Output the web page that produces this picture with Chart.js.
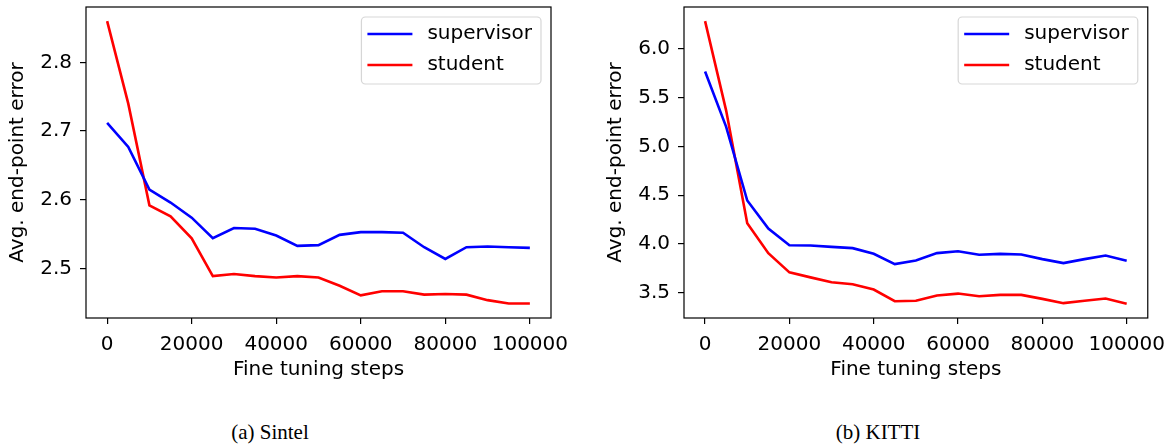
<!DOCTYPE html>
<html>
<head>
<meta charset="utf-8">
<script src="https://cdn.jsdelivr.net/npm/chart.js@4.4.0/dist/chart.umd.min.js"></script>
<style>
  body { margin: 0; background: #fff; }
  #wrap { position: relative; width: 1175px; height: 445px; }
  canvas { position: absolute; top: 0; }
  .cap { position: absolute; top: 420px; font-family: "Liberation Serif", serif; font-size: 21px; transform: translateX(-50%); white-space: nowrap; color: #000; }
</style>
</head>
<body>
<div id="wrap">
  <canvas id="sintel" width="580" height="400" style="left:0"></canvas>
  <canvas id="kitti" width="577" height="400" style="left:598px"></canvas>
  <div class="cap" style="left:270px">(a) Sintel</div>
  <div class="cap" style="left:878px">(b) KITTI</div>
</div>
<script>
const steps = [0, 5000, 10000, 15000, 20000, 25000, 30000, 35000, 40000, 45000, 50000,
  55000, 60000, 65000, 70000, 75000, 80000, 85000, 90000, 95000, 100000];
const xTicks = [0, 20000, 40000, 60000, 80000, 100000];

const sintelSupervisor = [2.712, 2.677, 2.615, 2.596, 2.574, 2.544, 2.559, 2.558, 2.548, 2.533, 2.534,
  2.549, 2.553, 2.553, 2.552, 2.531, 2.514, 2.531, 2.532, 2.531, 2.530];
const sintelStudent = [2.860, 2.740, 2.592, 2.576, 2.544, 2.489, 2.492, 2.489, 2.487, 2.489, 2.487,
  2.475, 2.461, 2.467, 2.467, 2.462, 2.463, 2.462, 2.454, 2.449, 2.449];
const sintelTicks = [2.5, 2.6, 2.7, 2.8];

const kittiSupervisor = [5.766, 5.20, 4.446, 4.158, 3.988, 3.985, 3.971, 3.958, 3.900, 3.795, 3.832,
  3.907, 3.927, 3.890, 3.900, 3.893, 3.846, 3.805, 3.846, 3.883, 3.829];
const kittiStudent = [6.282, 5.366, 4.212, 3.907, 3.710, 3.659, 3.609, 3.588, 3.534, 3.415, 3.419,
  3.473, 3.493, 3.466, 3.480, 3.480, 3.439, 3.395, 3.419, 3.442, 3.388];
const kittiTicks = [3.5, 4.0, 4.5, 5.0, 5.5, 6.0];

const FONT = "'DejaVu Sans', sans-serif";

// axes frame + matplotlib-style legend in the upper right
const boxAndLegend = {
  id: "boxAndLegend",
  afterDatasetsDraw(chart) {
    const { ctx, chartArea: a } = chart;
    ctx.save();
    ctx.strokeStyle = "#000";
    ctx.lineWidth = 1.2;
    ctx.strokeRect(a.left, a.top, a.right - a.left, a.bottom - a.top);

    ctx.font = "20px " + FONT;
    const sets = chart.data.datasets;
    const textW = Math.max(...sets.map(d => ctx.measureText(d.label).width));
    const w = 6 + 45 + 15 + textW + 9, h = 67;
    const x = a.right - 10 - w, y = a.top + 10;
    ctx.beginPath();
    ctx.roundRect(x, y, w, h, 4);
    ctx.fillStyle = "rgba(255,255,255,0.8)";
    ctx.fill();
    ctx.strokeStyle = "rgba(204,204,204,0.8)";
    ctx.lineWidth = 1.2;
    ctx.stroke();
    sets.forEach((d, i) => {
      const cy = y + 17 + i * 31;
      ctx.beginPath();
      ctx.moveTo(x + 6, cy);
      ctx.lineTo(x + 51, cy);
      ctx.strokeStyle = d.borderColor;
      ctx.lineWidth = 2.6;
      ctx.stroke();
      ctx.fillStyle = "#000";
      ctx.textBaseline = "middle";
      ctx.fillText(d.label, x + 66, cy);
    });
    ctx.restore();
  }
};

function makeChart(id, sup, stu, yMin, yMax, yTicks, padRight) {
  return new Chart(document.getElementById(id), {
    type: "line",
    data: {
      datasets: [
        {
          label: "supervisor",
          data: steps.map((s, i) => ({ x: s, y: sup[i] })),
          borderColor: "#0000ff",
          borderWidth: 2.6,
          pointRadius: 0,
          tension: 0
        },
        {
          label: "student",
          data: steps.map((s, i) => ({ x: s, y: stu[i] })),
          borderColor: "#ff0000",
          borderWidth: 2.6,
          pointRadius: 0,
          tension: 0
        }
      ]
    },
    options: {
      responsive: false,
      animation: false,
      layout: { padding: { top: 7, right: padRight, left: 0, bottom: 0 } },
      plugins: { legend: { display: false }, tooltip: { enabled: false } },
      scales: {
        x: {
          type: "linear",
          min: -5000,
          max: 105000,
          afterBuildTicks: s => { s.ticks = xTicks.map(v => ({ value: v })); },
          afterFit: s => { s.height = 82; },
          grid: { drawOnChartArea: false, drawTicks: true, tickLength: 6, color: "#000", lineWidth: 1.2 },
          border: { display: false },
          ticks: {
            color: "#000",
            font: { family: FONT, size: 20 },
            padding: 9,
            maxRotation: 0,
            autoSkip: false,
            callback: v => String(v)
          },
          title: {
            display: true,
            text: "Fine tuning steps",
            color: "#000",
            font: { family: FONT, size: 20 },
            padding: { top: 0, bottom: 18 }
          }
        },
        y: {
          min: yMin,
          max: yMax,
          afterBuildTicks: s => { s.ticks = yTicks.map(v => ({ value: v })); },
          afterFit: s => { s.width = 86; s.paddingTop = 0; s.paddingBottom = 0; },
          grid: { drawOnChartArea: false, drawTicks: true, tickLength: 6, color: "#000", lineWidth: 1.2 },
          border: { display: false },
          ticks: {
            color: "#000",
            font: { family: FONT, size: 20 },
            padding: 8,
            callback: v => v.toFixed(1)
          },
          title: {
            display: true,
            text: "Avg. end-point error",
            color: "#000",
            font: { family: FONT, size: 20 },
            padding: { top: 6, bottom: 0 }
          }
        }
      }
    },
    plugins: [boxAndLegend]
  });
}

makeChart("sintel", sintelSupervisor, sintelStudent, 2.428, 2.8806, sintelTicks, 29);
makeChart("kitti", kittiSupervisor, kittiStudent, 3.243, 6.427, kittiTicks, 25);
</script>
</body>
</html>
